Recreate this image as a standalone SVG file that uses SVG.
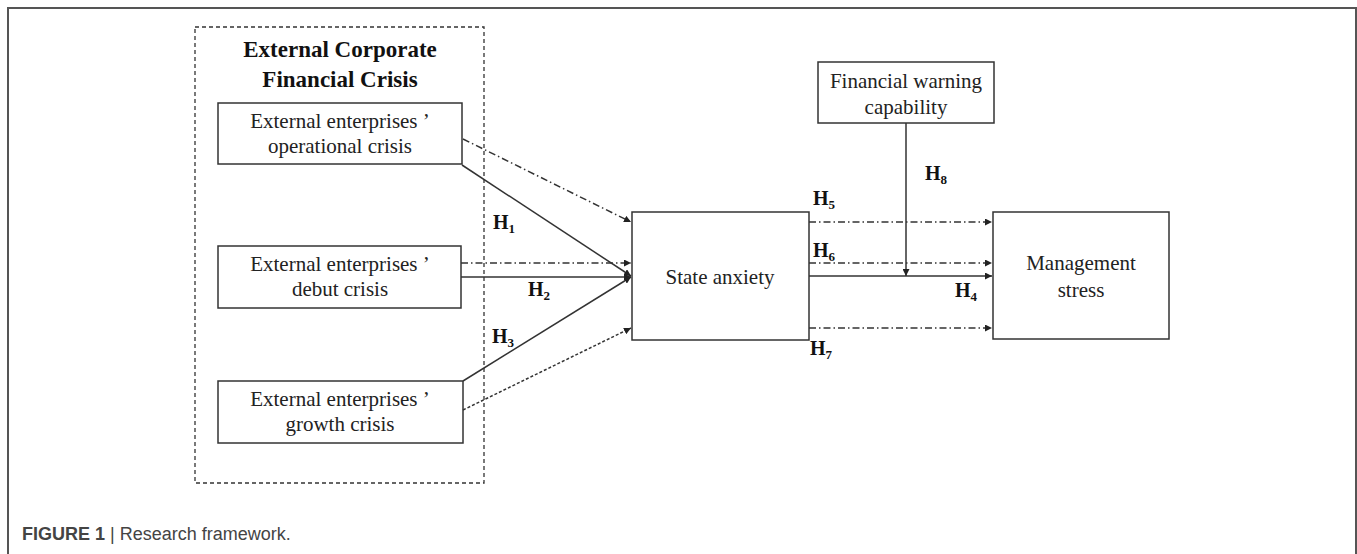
<svg xmlns="http://www.w3.org/2000/svg" width="1357" height="554" viewBox="0 0 1357 554">
<style>
.node{fill:#fff;stroke:#333;stroke-width:1.5}
.t{font-family:"Liberation Serif","Times New Roman",serif;font-size:21px;fill:#222;text-anchor:middle}
.tb{font-family:"Liberation Serif","Times New Roman",serif;font-size:23px;font-weight:bold;fill:#111;text-anchor:middle}
.h{font-family:"Liberation Serif","Times New Roman",serif;font-size:20px;font-weight:bold;fill:#111}
.c{stroke:#333;stroke-width:1.5;fill:none}
.dd{stroke-dasharray:7,3,1.5,3}
.frame{fill:none;stroke:#555;stroke-width:2}
.cap{font-family:"Liberation Sans",Arial,sans-serif;font-size:18px;fill:#444}
</style>
<defs>
<marker id="ah" viewBox="0 0 10 10" refX="10" refY="5" markerWidth="7" markerHeight="7" markerUnits="userSpaceOnUse" orient="auto">
<path d="M0,0 L10,5 L0,10 z" fill="#222"/>
</marker>
</defs>
<rect width="1357" height="554" fill="#fff"/>
<path class="frame" d="M8,554 V8 H1356 V554"/>
<g id="group-external">
<rect x="195" y="27" width="289" height="456" fill="none" stroke="#333" stroke-width="1.3" stroke-dasharray="4,3"/>
<text class="tb" x="340" y="57">External Corporate</text>
<text class="tb" x="340" y="87">Financial Crisis</text>
</g>
<g id="node-operational">
<rect class="node" x="218" y="103" width="244" height="61"/>
<text class="t" x="340" y="128">External enterprises ’</text>
<text class="t" x="340" y="153">operational crisis</text>
</g>
<g id="node-debut">
<rect class="node" x="218" y="246" width="243" height="62"/>
<text class="t" x="340" y="271">External enterprises ’</text>
<text class="t" x="340" y="296">debut crisis</text>
</g>
<g id="node-growth">
<rect class="node" x="218" y="381" width="245" height="62"/>
<text class="t" x="340" y="406">External enterprises ’</text>
<text class="t" x="340" y="431">growth crisis</text>
</g>
<g id="node-state">
<rect class="node" x="632" y="212" width="177" height="128"/>
<text class="t" x="720" y="284">State anxiety</text>
</g>
<g id="node-management">
<rect class="node" x="993" y="212" width="176" height="127"/>
<text class="t" x="1081" y="270">Management</text>
<text class="t" x="1081" y="297">stress</text>
</g>
<g id="node-warning">
<rect class="node" x="818" y="62" width="176" height="61"/>
<text class="t" x="906" y="88">Financial warning</text>
<text class="t" x="906" y="114">capability</text>
</g>
<g id="connectors">
<line class="c dd" x1="463" y1="139" x2="631" y2="222" marker-end="url(#ah)"/>
<line class="c" x1="462" y1="165" x2="631" y2="276" marker-end="url(#ah)"/>
<line class="c dd" x1="461" y1="263" x2="631" y2="263" marker-end="url(#ah)"/>
<line class="c" x1="461" y1="277" x2="631" y2="277" marker-end="url(#ah)"/>
<line class="c" x1="463" y1="381" x2="631" y2="277" marker-end="url(#ah)"/>
<line class="c" x1="463" y1="410" x2="631" y2="328" stroke-dasharray="3,2" marker-end="url(#ah)"/>
<line class="c dd" x1="809" y1="222" x2="992" y2="222" marker-end="url(#ah)"/>
<line class="c dd" x1="809" y1="263" x2="992" y2="263" marker-end="url(#ah)"/>
<line class="c" x1="809" y1="276" x2="992" y2="276" marker-end="url(#ah)"/>
<line class="c dd" x1="809" y1="328" x2="992" y2="328" marker-end="url(#ah)"/>
<line class="c" x1="906" y1="123" x2="906" y2="276" marker-end="url(#ah)"/>
</g>
<g id="labels">
<text class="h" x="493" y="229">H<tspan font-size="13" dy="4">1</tspan></text>
<text class="h" x="528" y="296">H<tspan font-size="13" dy="4">2</tspan></text>
<text class="h" x="492" y="343">H<tspan font-size="13" dy="4">3</tspan></text>
<text class="h" x="955" y="297">H<tspan font-size="13" dy="4">4</tspan></text>
<text class="h" x="813" y="205">H<tspan font-size="13" dy="4">5</tspan></text>
<text class="h" x="813" y="257">H<tspan font-size="13" dy="4">6</tspan></text>
<text class="h" x="810" y="355">H<tspan font-size="13" dy="4">7</tspan></text>
<text class="h" x="925" y="180">H<tspan font-size="13" dy="4">8</tspan></text>
</g>
<text class="cap" x="22" y="540"><tspan font-weight="bold">FIGURE 1</tspan> | Research framework.</text>
</svg>
